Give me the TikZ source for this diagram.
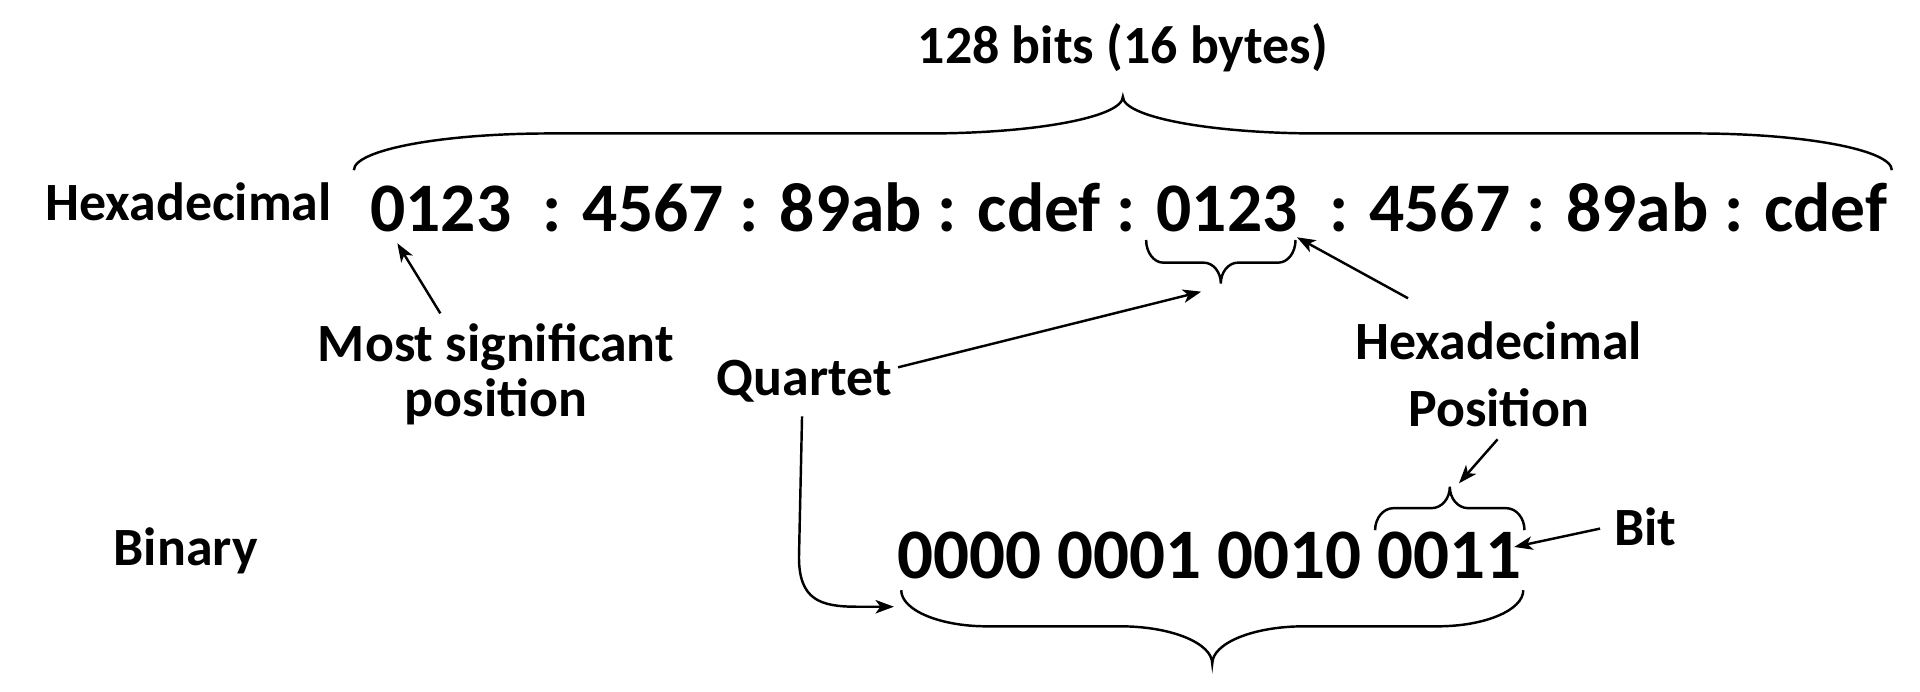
\documentclass[tikz,border=0pt]{standalone}
\usepackage{fontspec}
\setmainfont{Carlito}
\usetikzlibrary{arrows.meta}
\begin{document}
\begin{tikzpicture}[x=0.5pt,y=-0.5pt,
  lbl/.style={inner sep=0pt, font=\fontsize{22}{22}\selectfont\bfseries},
  big/.style={inner sep=0pt, font=\fontsize{29}{29}\selectfont\bfseries},
  bracepath/.style={line width=1pt},
  arr/.style={line width=1pt, -{Stealth[length=7.5pt,width=5.5pt,inset=2pt]}}]
\useasboundingbox[fill=white] (0,0) rectangle (1568,565);

% texts
\node[lbl, anchor=base] (title) at (917,51.7) {128 bits (16 bytes)};
\node[lbl, anchor=base west] (hexlbl) at (36.7,179.7) {Hexadecimal};
\node[big, anchor=base west, font=\fontsize{28.4}{28.4}\selectfont\bfseries] (hex) at (302,189.2) {0123\ \ : 4567 : 89ab : cdef : 0123\ \ : 4567 : 89ab : cdef};
\node[lbl, anchor=base] (msp) at (405,295.4) {Most significant};
\node[lbl, anchor=base] (msp2) at (405,340.3) {position};
\node[lbl, anchor=base] (quartet) at (657,322.6) {Quartet};
\node[lbl, anchor=base] (hp1) at (1224,294) {Hexadecimal};
\node[lbl, anchor=base] (hp2) at (1224,348.4) {Position};
\node[lbl, anchor=base west] (binlbl) at (92.5,462.2) {Binary};
\node[big, anchor=base west] (bin) at (732.3,472.3) {0000 0001 0010 0011};
\node[lbl, anchor=base west] (bit) at (1318,445.9) {Bit};

% braces
\draw[bracepath] (289,139) .. controls (289,122.4) and (360.7,109) .. (449,109) -- (757,109)
  .. controls (845.3,109) and (917,95.6) .. (917,79)
  .. controls (917,95.6) and (988.7,109) .. (1077,109) -- (1385,109)
  .. controls (1473.3,109) and (1545,122.4) .. (1545,139);
\draw[bracepath] (936,196) .. controls (936,206.2) and (942.3,214.5) .. (950,214.5) -- (983,214.5)
  .. controls (990.7,214.5) and (997,222.1) .. (997,231.5)
  .. controls (997,222.1) and (1003.3,214.5) .. (1011,214.5) -- (1044,214.5)
  .. controls (1051.7,214.5) and (1058,206.2) .. (1058,196);
\draw[bracepath] (1123,433) .. controls (1123,423.1) and (1129.7,415) .. (1138,415) -- (1169,415)
  .. controls (1177.3,415) and (1184,407.3) .. (1184,397.5)
  .. controls (1184,407.3) and (1190.7,415) .. (1199,415) -- (1230,415)
  .. controls (1238.3,415) and (1245,423.1) .. (1245,433);
\draw[bracepath] (736,482) .. controls (736,498.3) and (767.4,511.5) .. (806,511.5) -- (915,511.5)
  .. controls (956.4,511.5) and (990,525.2) .. (990,542)
  .. controls (990,525.2) and (1023.6,511.5) .. (1065,511.5) -- (1174,511.5)
  .. controls (1212.6,511.5) and (1244,498.3) .. (1244,482);

% connector ends
\coordinate (mspA) at (359.6,255.9);
\coordinate (mspB) at (324.5,198.7);
\coordinate (qA) at (733.4,300);
\coordinate (qB) at (981,238.2);
\coordinate (hpA) at (1149.9,243.6);
\coordinate (hpB) at (1059.2,193.8);
\coordinate (hpC) at (1223,358.8);
\coordinate (hpD) at (1191.5,394.7);
\coordinate (bitA) at (1306.7,431.7);
\coordinate (bitB) at (1236.6,446.7);
\coordinate (qC) at (655,340);
\coordinate (qD) at (730,495.5);

% arrows
\draw[arr] (mspA) -- (mspB);
\draw[arr] (qA) -- (qB);
\draw[arr] (hpA) -- (hpB);
\draw[arr] (hpC) -- (hpD);
\draw[arr] (bitA) -- (bitB);
\draw[arr] (qC) -- (652.5,455) .. controls (652.5,490) and (670,495.5) .. (700,495.5) -- (qD);
\end{tikzpicture}
\end{document}
